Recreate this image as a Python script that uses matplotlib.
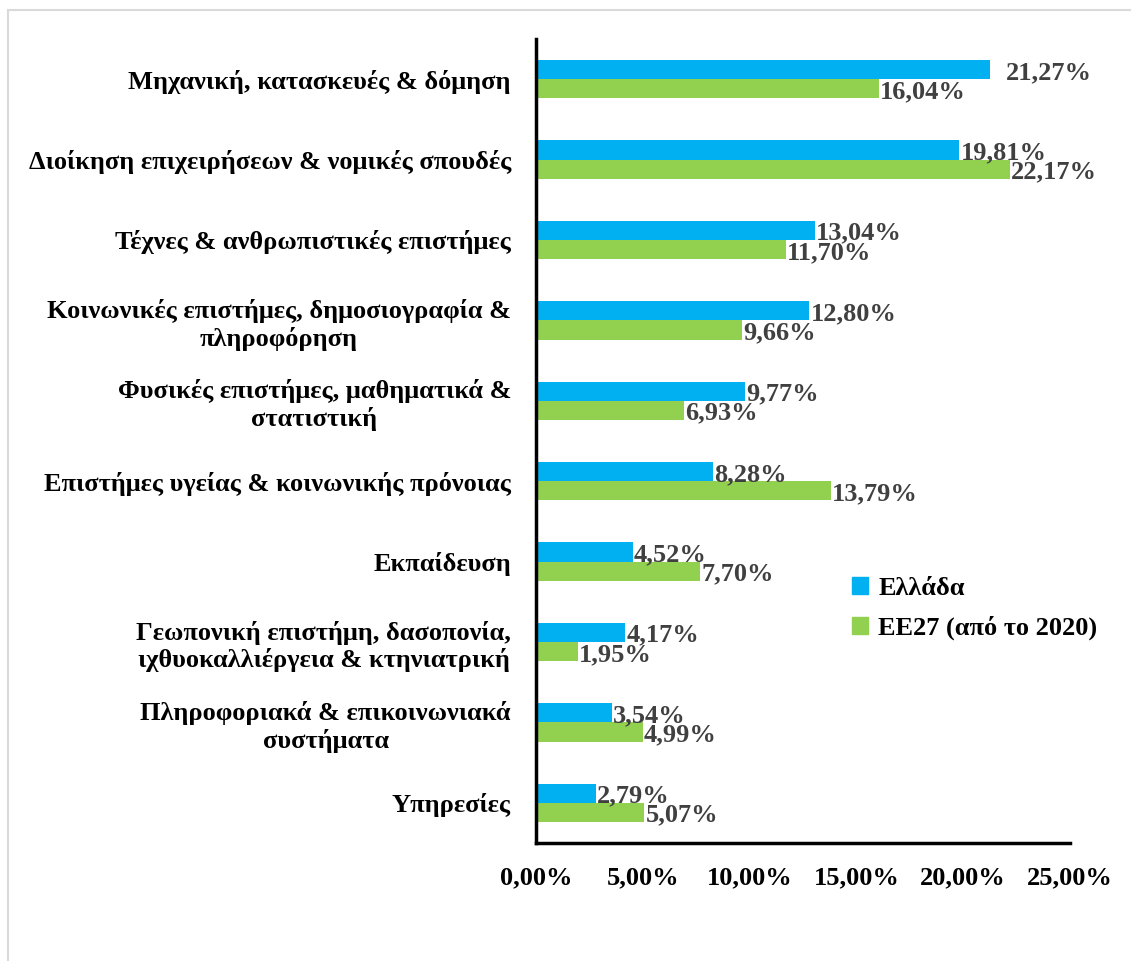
import matplotlib
matplotlib.use("Agg")
import matplotlib.pyplot as plt
from matplotlib.patches import Rectangle, Patch
import numpy as np

categories = [
    "Μηχανική, κατασκευές & δόμηση",
    "Διοίκηση επιχειρήσεων & νομικές σπουδές",
    "Τέχνες & ανθρωπιστικές επιστήμες",
    "Κοινωνικές επιστήμες, δημοσιογραφία &\nπληροφόρηση",
    "Φυσικές επιστήμες, μαθηματικά &\nστατιστική",
    "Επιστήμες υγείας & κοινωνικής πρόνοιας",
    "Εκπαίδευση",
    "Γεωπονική επιστήμη, δασοπονία,\nιχθυοκαλλιέργεια & κτηνιατρική",
    "Πληροφοριακά & επικοινωνιακά\nσυστήματα",
    "Υπηρεσίες",
]
greece = [21.27, 19.81, 13.04, 12.80, 9.77, 8.28, 4.52, 4.17, 3.54, 2.79]
eu27 = [16.04, 22.17, 11.70, 9.66, 6.93, 13.79, 7.70, 1.95, 4.99, 5.07]
series_names = ["Ελλάδα", "ΕΕ27 (από το 2020)"]
xticks = [0, 5, 10, 15, 20, 25]

BLUE = "#00B0F0"
GREEN = "#92D050"
FONT = "Liberation Serif"
FS = 19

fig = plt.figure(figsize=(11.31, 9.61), dpi=100)
ax = fig.add_axes([536/1131, 1-843/961, (1070-536)/1131, (843-39)/961])

y = np.arange(len(categories))
h = 0.24
b1 = ax.barh(y - h/2, greece, height=h, color=BLUE)
b2 = ax.barh(y + h/2, eu27, height=h, color=GREEN)

def fmt(v):
    return f"{v:.2f}".replace(".", ",") + "%"

for bars, vals in ((b1, greece), (b2, eu27)):
    for bar, v in zip(bars, vals):
        dx = 11 if v == max(greece) else 1
        ax.annotate(fmt(v), (v, bar.get_y() + bar.get_height()/2),
                    xytext=(dx, -2), textcoords="offset points",
                    ha="left", va="center", fontsize=FS, fontweight="bold",
                    family=FONT, color="#404040", annotation_clip=False)

ax.set_xlim(0, 25)
ax.set_ylim(len(categories) - 0.5, -0.5)
ax.set_xticks(xticks)
ax.set_xticklabels([f"{t:.2f}".replace(".", ",") + "%" for t in xticks],
                   fontsize=FS, fontweight="bold", family=FONT)
ax.set_yticks(y)
ax.set_yticklabels(categories, fontsize=FS, fontweight="bold", family=FONT,
                   multialignment="center")
ax.tick_params(axis="both", length=0)
ax.tick_params(axis="x", pad=17)
ax.tick_params(axis="y", pad=18)
for s in ("top", "right"):
    ax.spines[s].set_visible(False)
for s in ("left", "bottom"):
    ax.spines[s].set_linewidth(2.5)
    ax.spines[s].set_color("black")

handles = [Patch(color=BLUE), Patch(color=GREEN)]
fig.legend(handles, series_names, loc="upper left",
           bbox_to_anchor=(828/1131, 1-553/961), frameon=False,
           prop={"family": FONT, "weight": "bold", "size": FS},
           handlelength=0.6, handleheight=0.6, handletextpad=0.4,
           labelspacing=0.6)

fig.patches.append(Rectangle((8/1131, -0.1), 1.2, 1.1 - 10/961,
                             transform=fig.transFigure, fill=False,
                             edgecolor="#d9d9d9", linewidth=1.5))

fig.savefig("out.png", dpi=100)
